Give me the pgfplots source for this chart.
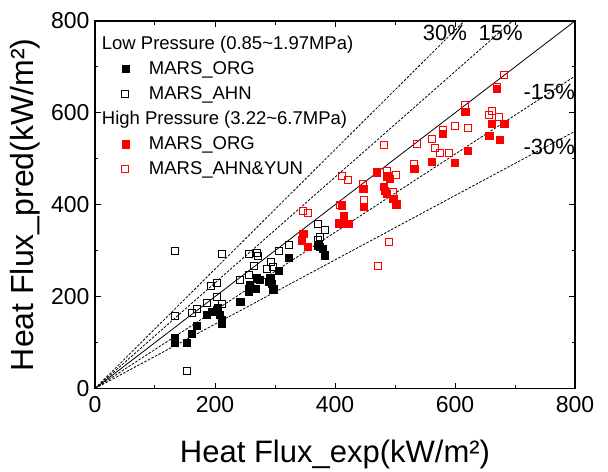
\documentclass[border=0pt]{standalone}
\usepackage{fontspec}
\setmainfont{Liberation Sans}
\usepackage{pgfplots}
\pgfplotsset{compat=1.18}
\begin{document}
\begin{tikzpicture}
\begin{axis}[
  at={(0,0)}, anchor=south west,
  scale only axis, width=480bp, height=367.5bp,
  xmin=0, xmax=800, ymin=0, ymax=800,
  xtick={0,200,...,800}, ytick={0,200,...,800},
  minor xtick={100,300,500,700}, minor ytick={100,300,500,700},
  tick align=inside, tick pos=both,
  major tick length=6bp, minor tick length=3.5bp,
  every tick/.style={black, line width=1bp},
  axis line style={line width=1.2bp},
  /pgf/number format/assume math mode=true,
  ticklabel style={font=\fontsize{23bp}{27bp}\selectfont},
  xticklabel style={yshift=-4bp},
  yticklabel style={xshift=-2bp},
  xlabel={Heat Flux\_exp(kW/m²)},
  ylabel={Heat Flux\_pred(kW/m²)},
  xlabel style={font=\fontsize{31bp}{36bp}\selectfont, at={(axis description cs:0.5,-0.2)}, anchor=base},
  ylabel style={font=\fontsize{32bp}{37bp}\selectfont, at={(axis description cs:-0.129,0.5)}, anchor=base, rotate=0},
  legend style={draw=none, fill=none, at={(axis description cs:0.045,0.965)}, anchor=north west,
    font=\fontsize{18.5bp}{22bp}\selectfont, row sep=6.6bp, inner sep=0pt,
    /tikz/every odd column/.append style={column sep=18bp}},
  legend cell align=left,
]
\addplot[black, line width=0.8bp, forget plot] coordinates {(0,0) (800,800)};
\addplot[black, line width=0.8bp, dash pattern=on 2.5bp off 1.5bp, forget plot] coordinates {(0,0) (615.4,800)};
\addplot[black, line width=0.8bp, dash pattern=on 2.5bp off 1.5bp, forget plot] coordinates {(0,0) (695.7,800)};
\addplot[black, line width=0.8bp, dash pattern=on 2.5bp off 1.5bp, forget plot] coordinates {(0,0) (800,680)};
\addplot[black, line width=0.8bp, dash pattern=on 2.5bp off 1.5bp, forget plot] coordinates {(0,0) (800,560)};

\addlegendimage{empty legend}
\addlegendentry{\hspace{-47bp}Low Pressure (0.85\textasciitilde 1.97MPa)}

\addplot[only marks, mark=square*, mark size=3.6bp, black, mark options={fill=black}] coordinates {
(133,110)(133,101)(153,100)(161,120)(170,136)(186,160)(195,167)(203,171)(205,175)(208,160)
(211,149)(211,142)(242,189)(256,218)(256,210)(258,225)(268,218)(270,240)(275,237)(289,232)
(292,240)(295,229)(297,216)(306,256)(323,285)(372,312)(375,308)(380,305)(383,290)};
\addlegendentry{MARS\_ORG}

\addplot[only marks, mark=square, mark size=3.5bp, black, mark options={line width=0.9bp}] coordinates {
(133,300)(153,39)(133,158)(161,165)(170,174)(186,187)(193,223)(203,230)(203,200)(211,185)
(211,292)(242,236)(256,247)(256,292)(270,294)(271,288)(265,266)(286,260)(294,276)(297,265)
(307,300)(323,312)(371,358)(383,345)(375,329)(372,323)};
\addlegendentry{MARS\_AHN}

\addlegendimage{empty legend}
\addlegendentry{\hspace{-47bp}High Pressure (3.22\textasciitilde 6.7MPa)}

\addplot[only marks, mark=square*, mark size=3.6bp, red, mark options={fill=red}] coordinates {
(347,337)(344,323)(355,308)(411,399)(414,377)(407,360)(422,359)(447,435)(448,395)(470,471)
(487,462)(491,457)(481,439)(483,431)(486,424)(497,413)(502,401)(532,479)(561,493)(580,555)
(600,491)(617,602)(621,518)(657,551)(661,577)(682,576)(674,542)(670,652)};
\addlegendentry{MARS\_ORG}

\addplot[only marks, mark=square, mark size=3.5bp, red, mark options={line width=0.9bp}] coordinates {
(346,386)(355,382)(412,462)(422,455)(409,399)(447,446)(448,411)(481,531)(487,473)(502,465)
(497,428)(490,319)(471,266)(532,489)(537,533)(561,544)(567,524)(575,513)(590,513)(580,562)
(600,572)(621,567)(617,618)(657,595)(661,605)(674,592)(670,657)(682,683)};
\addlegendentry{MARS\_AHN\&YUN}

\node[font=\fontsize{22bp}{26bp}\selectfont] at (axis cs:583,773) {30\%};
\node[font=\fontsize{22bp}{26bp}\selectfont] at (axis cs:676,773) {15\%};
\node[font=\fontsize{22bp}{26bp}\selectfont] at (axis cs:757,645) {-15\%};
\node[font=\fontsize{22bp}{26bp}\selectfont] at (axis cs:757,525) {-30\%};
\end{axis}
\pgfresetboundingbox
\useasboundingbox (-95bp,-83.5bp) rectangle (513bp,388.5bp);
\end{tikzpicture}
\end{document}
